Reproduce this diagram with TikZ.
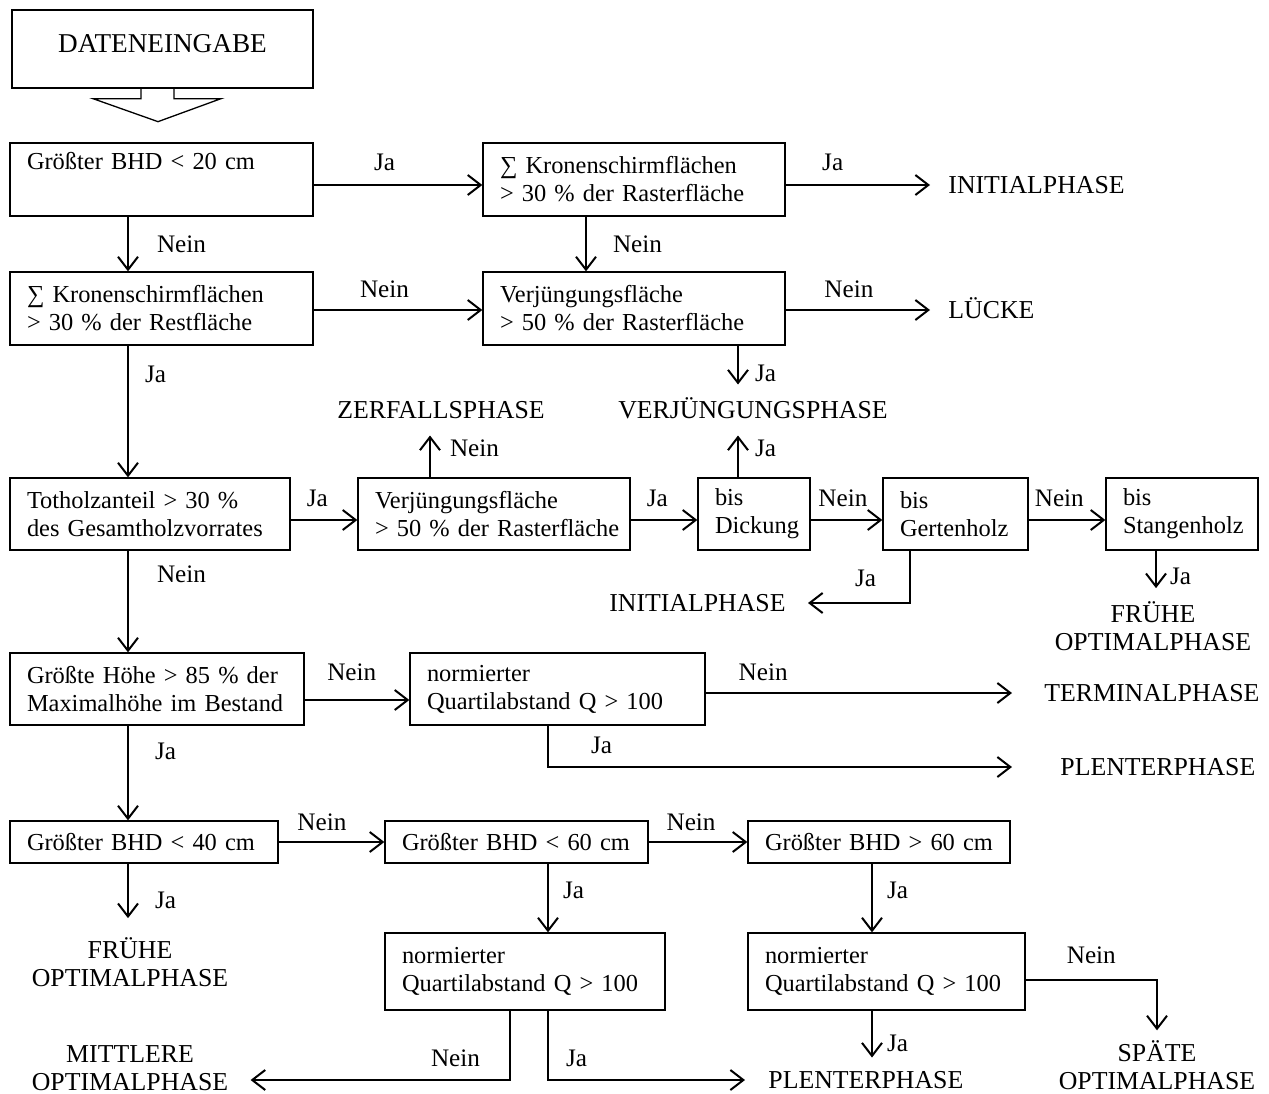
\documentclass[tikz,border=0pt]{standalone}
\usepackage{fontspec}
\setmainfont{Liberation Serif}
\usetikzlibrary{arrows.meta,positioning}

\tikzset{
  box/.style={draw, line width=0.65pt, align=left, inner xsep=8.5pt, inner ysep=0pt,
    font=\fontsize{12.2}{14}\selectfont, text width={(#1)*0.5pt-17pt},
    execute at begin node={\rightskip=0pt plus 1fil minus 40pt}},
  inbox/.style={draw, line width=0.65pt, inner sep=0pt, font=\fontsize{13.6}{16}\selectfont},
  phase/.style={inner sep=0pt, font=\fontsize{12.9}{13.7}\selectfont, text height=8.5pt, text depth=0pt},
  phasetwo/.style={align=center, inner sep=0pt, font=\fontsize{12.9}{13.7}\selectfont},
  lbl/.style={inner sep=1pt},
  arr/.style={-{Straight Barb[length=6.5pt,width=10pt]}, line width=1pt}
}

\begin{document}
\begin{tikzpicture}[x=0.5pt, y=-0.5pt, font=\fontsize{12.6}{14}\selectfont]
\useasboundingbox (0,0) rectangle (1269,1093);

% columns and rows of the connectors
\coordinate (colA) at (128,0);
\coordinate (colB) at (586,0);
\coordinate (colC) at (738,0);
\coordinate (colD) at (430,0);
\coordinate (colE) at (910,0);
\coordinate (colF) at (1156,0);
\coordinate (colG) at (548,0);
\coordinate (colH) at (872,0);
\coordinate (colI) at (510,0);
\coordinate (rowA) at (0,185);
\coordinate (rowB) at (0,310);
\coordinate (rowC) at (0,520);
\coordinate (rowD) at (0,700);
\coordinate (rowF) at (0,842);
\coordinate (rowG) at (0,980);

% decision boxes
\node[inbox, minimum width=150.5pt, minimum height=39pt, text height=9pt, text depth=6pt] (b0) at (162.5,49) {DATENEINGABE};
\node[box=303, minimum height=36.5pt] (b1) at (161.5,179.5) {Größter BHD < 20 cm\\ \strut};
\node[box=302, minimum height=36.5pt] (b2) at (634,179.5) {∑ Kronenschirmflächen\\> 30 \% der Rasterfläche};
\node[box=303, minimum height=36.5pt] (b3) at (161.5,308.5) {∑ Kronenschirmflächen\\> 30 \% der Restfläche};
\node[box=302, minimum height=36.5pt] (b4) at (634,308.5) {Verjüngungsfläche\\> 50 \% der Rasterfläche};
\node[box=280, minimum height=36pt] (b5) at (150,514) {Totholzanteil > 30 \%\\des Gesamtholzvorrates};
\node[box=272, minimum height=36pt] (b6) at (494,514) {Verjüngungsfläche\\> 50 \% der Rasterfläche};
\node[box=112, minimum height=36pt] (b7) at (754,514) {bis\\Dickung};
\node[box=145, minimum height=36pt] (b8) at (955.5,514) {bis\\Gertenholz};
\node[box=152, minimum height=36pt] (b9) at (1182,514) {bis\\Stangenholz};
\node[box=294, minimum height=36pt] (b10) at (157,689) {Größte Höhe > 85 \% der\\Maximalhöhe im Bestand};
\node[box=295, minimum height=36pt] (b11) at (557.5,689) {normierter\\Quartilabstand Q > 100};
\node[box=268, minimum height=21pt] (b12) at (144,842) {Größter BHD < 40 cm};
\node[box=263, minimum height=21pt] (b13) at (516.5,842) {Größter BHD < 60 cm};
\node[box=262, minimum height=21pt] (b14) at (879,842) {Größter BHD > 60 cm};
\node[box=280, minimum height=38.5pt] (b15) at (525,971.5) {normierter\\Quartilabstand Q > 100};
\node[box=277, minimum height=38.5pt] (b16) at (886.5,971.5) {normierter\\Quartilabstand Q > 100};

% phases
\node[phase, anchor=west] (init1) at (948,185) {INITIALPHASE};
\node[phase, anchor=west] (luecke) at (948,310) {LÜCKE};
\node[phase] (verj) at (753,410) {VERJÜNGUNGSPHASE};
\node[phase] (zerf) at (441,410) {ZERFALLSPHASE};
\node[phase, anchor=east] (init2) at (786,603) {INITIALPHASE};
\node[phasetwo] (frueh1) at (1153,626) {FRÜHE\\OPTIMALPHASE};
\node[phase, anchor=west] (term) at (1044,693) {TERMINALPHASE};
\node[phase, anchor=west] (plent1) at (1060,767) {PLENTERPHASE};
\node[phasetwo] (frueh2) at (130,962) {FRÜHE\\OPTIMALPHASE};
\node[phasetwo] (mittl) at (130,1068) {MITTLERE\\OPTIMALPHASE};
\node[phase, anchor=west] (plent2) at (768,1080) {PLENTERPHASE};
\node[phasetwo] (spaet) at (1157,1065) {SPÄTE\\OPTIMALPHASE};

% hollow arrow under the input
\draw[line width=0.65pt] ([xshift=-10.75pt]b0.south) -- ++(0,10) -- ++(-48,0) -- ++(65,23) -- ++(63,-23) -- ++(-47,0) -- ++(0,-10);

% connectors
\draw[arr] (b1.east |- rowA) -- node[pos=.42, above=5.5pt, lbl]{Ja} (b2.west |- rowA);
\draw[arr, shorten >=9pt] (b2.east |- rowA) -- node[pos=.29, above=5.5pt, lbl]{Ja} (init1.west);
\draw[arr] (b1.south -| colA) -- node[right=13pt, lbl]{Nein} (b3.north -| colA);
\draw[arr] (b2.south -| colB) -- node[right=12pt, lbl]{Nein} (b4.north -| colB);
\draw[arr] (b3.east |- rowB) -- node[pos=.42, above=4.75pt, lbl]{Nein} (b4.west |- rowB);
\draw[arr, shorten >=9pt] (b4.east |- rowB) -- node[pos=.39, above=4.5pt, lbl]{Nein} (luecke.west);
\draw[arr, shorten >=8.3pt] (b4.south -| colC) -- node[right=7pt, lbl]{Ja} (verj.north -| colC);
\draw[arr] (b3.south -| colA) -- node[pos=.22, right=7pt, lbl]{Ja} (b5.north -| colA);
\draw[arr] (b5.east |- rowC) -- node[pos=.4, above=5.25pt, lbl]{Ja} (b6.west |- rowC);
\draw[arr, shorten >=8.3pt] (b6.north -| colD) -- node[right=8.5pt, lbl]{Nein} (zerf.south -| colD);
\draw[arr] (b6.east |- rowC) -- node[pos=.4, above=5.25pt, lbl]{Ja} (b7.west |- rowC);
\draw[arr, shorten >=8.3pt] (b7.north -| colC) -- node[right=7pt, lbl]{Ja} (verj.south -| colC);
\draw[arr] (b7.east |- rowC) -- node[pos=.45, above=5.25pt, lbl]{Nein} (b8.west |- rowC);
\draw[arr, shorten >=11pt] (b8.south -| colE) |- node[pos=.5, above left=6.5pt and 15.5pt, lbl]{Ja} (init2.east);
\draw[arr] (b8.east |- rowC) -- node[pos=.4, above=5.25pt, lbl]{Nein} (b9.west |- rowC);
\draw[arr, shorten >=6.6pt] (b9.south -| colF) -- node[right=5.5pt, lbl]{Ja} (frueh1.north -| colF);
\draw[arr] (b5.south -| colA) -- node[pos=.23, right=13pt, lbl]{Nein} (b10.north -| colA);
\draw[arr] (b10.east |- rowD) -- node[pos=.45, above=8.25pt, lbl]{Nein} (b11.west |- rowD);
\draw[arr, shorten >=16pt] (b11.east |- term.west) -- node[pos=.17, above=4.75pt, lbl]{Nein} (term.west);
\draw[arr, shorten >=24pt] (b11.south -| colG) |- node[pos=.5, above right=5.25pt and 20pt, lbl]{Ja} (plent1.west);
\draw[arr] (b10.south -| colA) -- node[pos=.27, right=12pt, lbl]{Ja} (b12.north -| colA);
\draw[arr] (b12.east |- rowF) -- node[pos=.41, above=4.25pt, lbl]{Nein} (b13.west |- rowF);
\draw[arr] (b13.east |- rowF) -- node[pos=.43, above=4.25pt, lbl]{Nein} (b14.west |- rowF);
\draw[arr, shorten >=9.6pt] (b12.south -| colA) -- node[right=12pt, lbl]{Ja} (frueh2.north -| colA);
\draw[arr] (b13.south -| colG) -- node[pos=.39, right=6pt, lbl]{Ja} (b15.north -| colG);
\draw[arr] (b14.south -| colH) -- node[pos=.39, right=6pt, lbl]{Ja} (b16.north -| colH);
\draw[arr, shorten >=11pt] (b15.south -| colI) |- node[pos=.5, above left=5.25pt and 13.5pt, lbl]{Nein} ([yshift=-6pt]mittl.east);
\draw[arr, shorten >=11.5pt] (b15.south -| colG) |- node[pos=.5, above right=5.25pt and 7.5pt, lbl]{Ja} (plent2.west);
\draw[arr, shorten >=6.8pt] (b16.south -| colH) -- node[pos=.54, right=6pt, lbl]{Ja} (plent2.north -| colH);
\draw[arr, shorten >=5pt] (b16.east |- rowG) -| node[pos=.25, above=6.75pt, lbl]{Nein} (spaet.north);
\end{tikzpicture}
\end{document}
